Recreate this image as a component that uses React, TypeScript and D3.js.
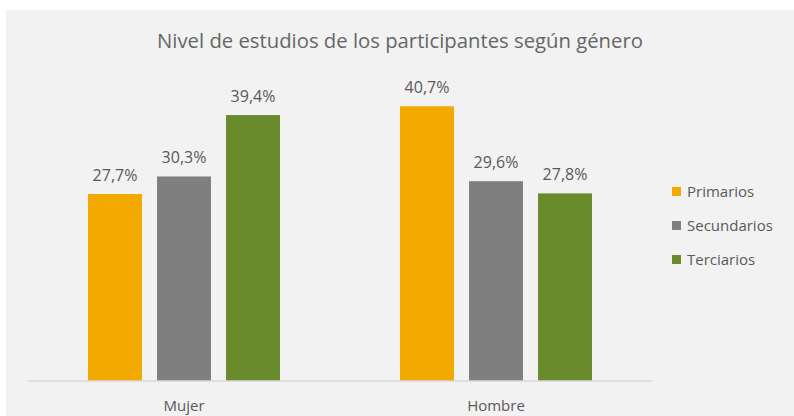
import React from "react";
import * as d3 from "d3";

const categories = ["Mujer", "Hombre"];
const seriesNames = ["Primarios", "Secundarios", "Terciarios"];
const primarios = [27.7, 40.7];
const secundarios = [30.3, 29.6];
const terciarios = [39.4, 27.8];
const seriesColors = ["#F2A900", "#7F7F7F", "#6A8B2C"];
const title = "Nivel de estudios de los participantes según género";

const W = 794;
const H = 416;
const FONT = "'Open Sans', sans-serif";

export default function App() {
  const values = [primarios, secundarios, terciarios];
  const x0 = d3.scaleBand<string>().domain(categories).range([28, 652]).paddingInner(0).paddingOuter(0);
  const groupPad = 60;
  const x1 = d3
    .scaleBand<string>()
    .domain(seriesNames)
    .range([groupPad, x0.bandwidth() - groupPad])
    .paddingInner(0.218)
    .paddingOuter(0);
  const y = d3.scaleLinear().domain([0, 50]).range([381, 43.5]);
  const fmt = (v: number) => v.toFixed(1).replace(".", ",") + "%";

  return (
    <svg
      width={W}
      height={H}
      style={{ position: "absolute", left: 0, top: 0, display: "block" }}
    >
      <rect x={0} y={0} width={W} height={H} fill="#ffffff" />
      <rect x={6} y={10} width={W - 6} height={H - 10} fill="#F2F2F2" />
      <text
        x={400}
        y={48}
        textAnchor="middle"
        fontFamily={FONT}
        fontSize={20.3}
        fill="#666666"
      >
        {title}
      </text>
      {categories.map((c, ci) => (
        <g key={c} transform={`translate(${x0(c)},0)`}>
          {seriesNames.map((s, si) => {
            const v = values[si][ci];
            const bx = x1(s)!;
            return (
              <g key={s}>
                <rect
                  x={bx}
                  y={y(v)}
                  width={x1.bandwidth()}
                  height={y(0) - y(v)}
                  fill={seriesColors[si]}
                />
                <text
                  x={bx + x1.bandwidth() / 2}
                  y={y(v) - 13}
                  textAnchor="middle"
                  fontFamily={FONT}
                  fontSize={16}
                  fill="#595959"
                >
                  {fmt(v)}
                </text>
              </g>
            );
          })}
          <text
            x={x0.bandwidth() / 2}
            y={411}
            textAnchor="middle"
            fontFamily={FONT}
            fontSize={15}
            fill="#595959"
          >
            {c}
          </text>
        </g>
      ))}
      <line x1={28} x2={652} y1={381} y2={381} stroke="#D9D9D9" strokeWidth={1.5} />
      {seriesNames.map((s, i) => (
        <g key={s} transform={`translate(672,${191.5 + i * 34})`}>
          <rect x={0} y={-4.5} width={9} height={9} fill={seriesColors[i]} />
          <text x={15} y={5.5} fontFamily={FONT} fontSize={15} fill="#595959">
            {s}
          </text>
        </g>
      ))}
    </svg>
  );
}
